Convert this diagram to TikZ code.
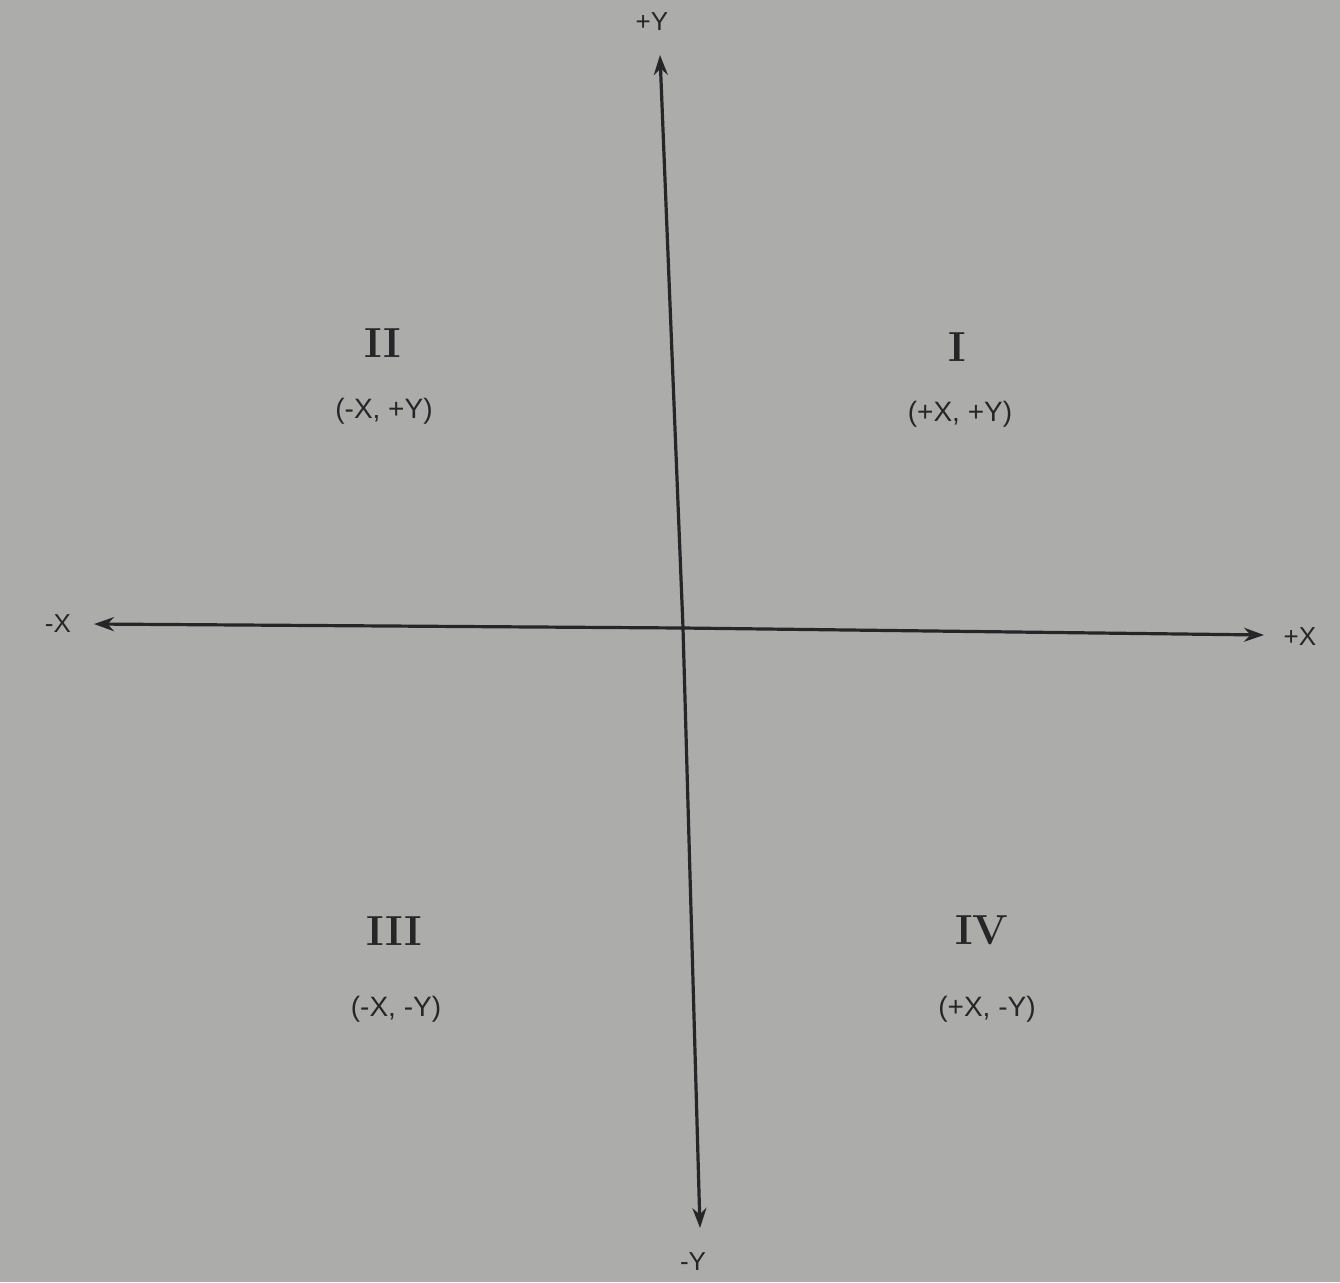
\documentclass[tikz,border=0pt]{standalone}
\usepackage{fontspec}
\setsansfont{Liberation Sans}
\usetikzlibrary{arrows.meta}
\definecolor{paper}{RGB}{172,172,170}
\definecolor{ink}{RGB}{38,38,40}
\begin{document}
\begin{tikzpicture}[x=0.5pt,y=-0.5pt,
  axis/.style={draw=ink,line width=1.6pt,-{Stealth[length=10pt,width=7pt]}},
  axlabel/.style={text=ink,font=\sffamily\fontsize{13}{13}\selectfont,inner sep=0pt},
  quadnum/.style={text=ink,font=\rmfamily\bfseries\fontsize{21}{21}\selectfont,inner sep=0pt},
  quadsign/.style={text=ink,font=\sffamily\fontsize{14}{14}\selectfont,inner sep=0pt}]
\fill[paper] (0,0) rectangle (1340,1282);
\useasboundingbox (0,0) rectangle (1340,1282);
% axis end points
\coordinate (ytop) at (660,55);
\coordinate (ybot) at (700,1228);
\coordinate (xleft) at (94,624);
\coordinate (xright) at (1264,635);
\coordinate (origin) at (683,628);
\draw[axis] (origin) -- (ytop);
\draw[axis] (origin) -- (ybot);
\draw[axis] (origin) -- (xleft);
\draw[axis] (origin) -- (xright);
% axis labels
\node[axlabel] (lpy) at (652,22) {+Y};
\node[axlabel] (lmy) at (693,1262) {{-}Y};
\node[axlabel] (lmx) at (58,624) {{-}X};
\node[axlabel] (lpx) at (1300,637) {+X};
% quadrant numerals
\node[quadnum] (q2) at (383,343) {II};
\node[quadnum] (q1) at (957,347) {I};
\node[quadnum] (q3) at (394,931) {III};
\node[quadnum] (q4) at (982,930) {IV};
% quadrant signs
\node[quadsign] (s2) at (384,411) {({-}X, +Y)};
\node[quadsign] (s1) at (960,414) {(+X, +Y)};
\node[quadsign] (s3) at (396,1009) {({-}X, {-}Y)};
\node[quadsign] (s4) at (987,1009) {(+X, {-}Y)};
\end{tikzpicture}
\end{document}
